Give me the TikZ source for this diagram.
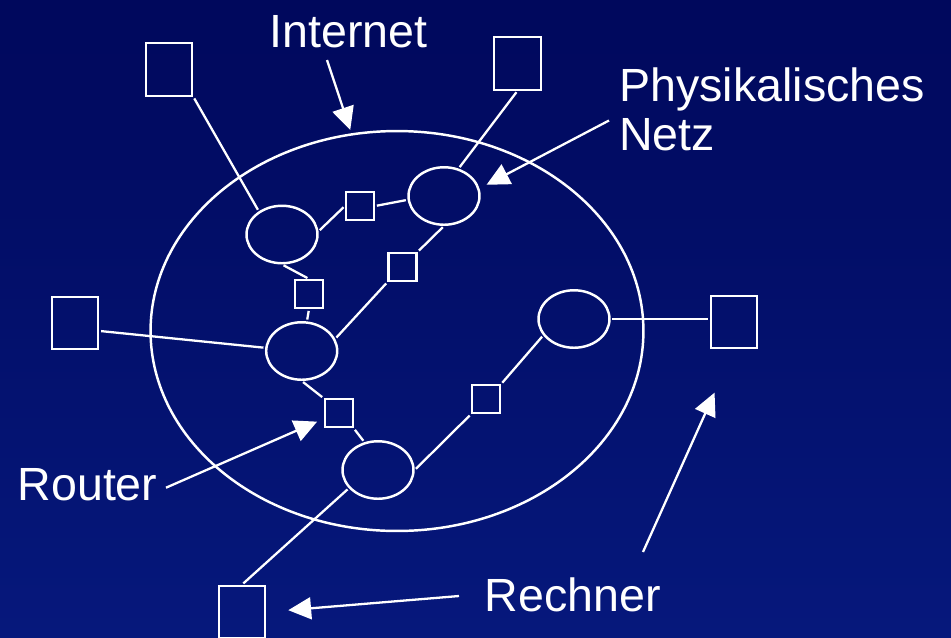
\documentclass[tikz,border=0pt]{standalone}
\usepackage{fontspec}
\setmainfont{Liberation Sans}
\usetikzlibrary{arrows.meta,shapes.geometric}
\definecolor{bgtop}{RGB}{0,8,92}
\definecolor{bgbot}{RGB}{6,24,124}
\tikzset{>={Triangle[length=13pt,width=12.5pt]}}
\tikzset{host/.style={draw=white,line width=1.3pt,minimum width=0.93cm,minimum height=1.05cm,inner sep=0pt},
  rt/.style={draw=white,line width=1.3pt,minimum size=0.56cm,inner sep=0pt},
  netz/.style={ellipse,draw=white,line width=1.4pt,minimum width=1.42cm,minimum height=1.15cm,inner sep=0pt},
  lbl/.style={text=white,font=\fontsize{26.5}{28}\selectfont,inner sep=0pt,anchor=base west},
  link/.style={white,line width=1.3pt,shorten <=1pt,shorten >=1pt},
  zeiger/.style={white,line width=1.3pt,->}}

\begin{document}
\begin{tikzpicture}[x=0.02cm,y=-0.02cm]
\clip (0,0) rectangle (951,637);
\shade [top color=bgtop,bottom color=bgbot] (0,0) rectangle (951,637);

% the internet
\node [netz,minimum width=9.86cm,minimum height=8cm] (inet) at (397,331) {};

% hosts
\node [host] (hTL) at (169,69.5) {};
\node [host] (hTR) at (517.5,63.4) {};
\node [host] (hL) at (75,323) {};
\node [host] (hR) at (734,322) {};
\node [host] (hB) at (242,612) {};

% physical networks
\node [netz] (n1) at (282,234.5) {};
\node [netz] (n2) at (444,196) {};
\node [netz] (n3) at (301.7,351) {};
\node [netz] (n4) at (574,319) {};
\node [netz] (n5) at (378,470) {};

% routers
\node [rt] (r1) at (360,206) {};
\node [rt] (r2) at (402.5,267) {};
\node [rt] (r3) at (309,294) {};
\node [rt] (r4) at (338.7,413.3) {};
\node [rt] (r5) at (486,399.2) {};

% links
\draw [link] (hTL.south east)--(n1.135);
\draw [link] (hTR.south)--(n2.62);
\draw [link] (hL.-18)--(n3.175);
\draw [link] (n4.east)--(n4.east -| hR.west);
\draw [link] (n5.212)--(hB.north);
\draw [link] (n1.5)--(r1.west);
\draw [link] (r1.east)--(n2.186);
\draw [link] (n2.south)--(r2.north east);
\draw [link] (r2.south west)--(n3.20);
\draw [link] (n1.south)--(r3.north);
\draw [link] (r3.south)--(n3.80);
\draw [link] (n3.south)--(r4.north west);
\draw [link] (r4.south east)--(n5.116);
\draw [link] (n5.east)--(r5.south west);
\draw [link] (r5.north east)--(n4.208);

% labels
\node [lbl] (lInet) at (269,47.3) {Internet};
\node [lbl,align=left] (lPhys) at (619,150.7) {Physikalisches\\Netz};
\node [lbl] (lRouter) at (17.3,500) {Router};
\node [lbl] (lRechner) at (484.6,611.7) {Rechner};

% pointers
\coordinate (pInet) at (327,60);
\coordinate (pPhys) at (609,120.5);
\coordinate (pRouter) at (166,487.7);
\coordinate (pRechA) at (459,596);
\coordinate (pRechB) at (643,552);
\draw [zeiger,shorten >=2pt] (pInet)--(inet.103);
\draw [zeiger,shorten >=4.5pt] (pPhys)--(n2.12);
\draw [zeiger,shorten >=4pt] (pRouter)--(r4.200);
\draw [zeiger,shorten >=12.5pt] (pRechA)--(hB.east);
\draw [zeiger,shorten >=27pt] (pRechB)--(hR.south);
\end{tikzpicture}
\end{document}
